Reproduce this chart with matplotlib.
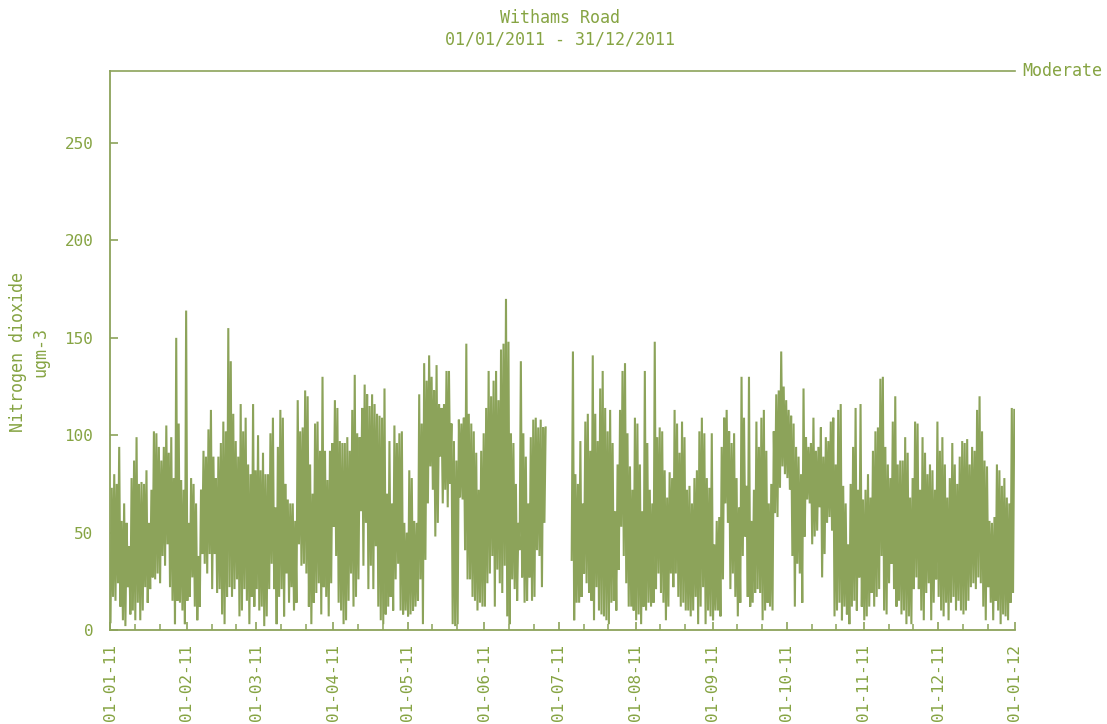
import numpy as np
import matplotlib
matplotlib.use("Agg")
import matplotlib.pyplot as plt
import matplotlib.dates as mdates
import matplotlib.transforms as mtransforms

nan = np.nan

# daily peak values (ugm-3), Jan..Dec 2011
highs_by_month = [
    [73, 80, 75, 94, 56, 65, 55, 43, 78, 87, 99, 75, 76, 75, 82, 55, 72, 102, 101, 94,
     87, 94, 105, 91, 99, 78, 150, 106, 77, 72, 164],
    [55, 78, 75, 65, 38, 72, 92, 89, 103, 113, 89, 78, 89, 96, 107, 102, 155, 138, 111, 97,
     89, 116, 102, 109, 85, 80, 116, 82],
    [100, 82, 91, 80, 80, 101, 109, 63, 94, 113, 109, 75, 67, 65, 65, 56, 118, 102, 104, 123,
     120, 85, 70, 106, 107, 92, 130, 92, 77, 92, 96],
    [118, 114, 97, 96, 96, 99, 92, 113, 131, 101, 99, 114, 126, 121, 115, 121, 116, 111, 110, 109,
     124, 70, 97, 65, 105, 96, 101, 102, 55, 50],
    [82, 78, 56, 55, 121, 106, 137, 128, 141, 130, 123, 136, 116, 114, 116, 133, 133, 106, 97, 87,
     108, 106, 109, 147, 111, 106, 102, 91, 72, 92, 101],
    [114, 133, 120, 128, 133, 118, 144, 147, 170, 148, 101, 96, 75, 55, 138, 101, 89, 65, 99, 108,
     109, 104, 108, 104, 104, nan, nan, nan, nan, nan],
    [nan, nan, nan, nan, nan, 143, 80, 75, 97, 65, 107, 111, 92, 141, 111, 97, 124, 133, 114, 102,
     113, 96, 61, 85, 113, 133, 137, 101, 84, 72, 109],
    [106, 85, 61, 133, 96, 72, 65, 148, 99, 104, 102, 82, 68, 81, 78, 113, 106, 91, 107, 99,
     72, 74, 65, 78, 82, 102, 109, 101, 78, 73, 101],
    [44, 56, 58, 94, 109, 113, 102, 96, 101, 78, 63, 130, 109, 74, 130, 56, 72, 107, 94, 109,
     113, 92, 65, 75, 102, 121, 123, 143, 125, 118],
    [113, 110, 106, 94, 89, 80, 124, 99, 94, 96, 109, 92, 94, 104, 89, 99, 97, 107, 109, 85,
     113, 116, 74, 65, 44, 75, 94, 114, 72, 116, 67],
    [72, 80, 68, 92, 102, 104, 129, 130, 94, 85, 78, 107, 120, 85, 87, 87, 99, 91, 68, 78,
     107, 106, 72, 99, 91, 80, 85, 82, 72, 107],
    [92, 99, 85, 68, 78, 96, 85, 75, 89, 97, 96, 98, 85, 94, 92, 113, 120, 102, 87, 84,
     56, 55, 58, 85, 82, 74, 78, 68, 65, 114, 113],
]

# daily minimum values (ugm-3)
lows_by_month = [
    [4, 17, 15, 24, 12, 5, 2, 22, 8, 10, 5, 14, 5, 10, 22, 14, 21, 27, 26, 29,
     24, 38, 33, 44, 22, 15, 3, 15, 14, 10, 3],
    [15, 17, 27, 12, 5, 12, 39, 34, 29, 39, 21, 39, 19, 21, 8, 3, 17, 22, 17, 21,
     26, 7, 10, 21, 15, 3, 17, 12],
    [21, 10, 12, 2, 7, 21, 34, 21, 3, 17, 21, 7, 29, 14, 22, 10, 14, 44, 33, 34,
     29, 12, 3, 14, 19, 24, 8, 22, 17, 7, 24],
    [53, 38, 14, 10, 3, 5, 15, 29, 12, 17, 26, 61, 33, 55, 21, 33, 21, 43, 12, 5,
     3, 8, 12, 17, 10, 26, 34, 10, 8, 10],
    [7, 8, 10, 12, 15, 26, 3, 36, 65, 84, 72, 48, 55, 89, 65, 72, 63, 75, 3, 2,
     3, 68, 67, 41, 26, 26, 17, 15, 10, 14, 12],
    [12, 24, 29, 38, 12, 31, 24, 19, 33, 7, 3, 26, 21, 15, 41, 27, 14, 15, 27, 15,
     17, 41, 38, 22, 55, nan, nan, nan, nan, nan],
    [nan, nan, nan, nan, nan, 36, 5, 14, 14, 17, 29, 24, 19, 15, 5, 22, 10, 8, 7, 5,
     3, 14, 15, 10, 31, 53, 38, 24, 12, 12, 10],
    [5, 8, 3, 12, 10, 14, 12, 14, 21, 29, 19, 14, 5, 12, 29, 22, 29, 17, 12, 14,
     10, 10, 7, 10, 17, 3, 12, 22, 3, 10, 7],
    [5, 10, 10, 7, 26, 65, 55, 21, 29, 17, 7, 14, 38, 48, 17, 12, 14, 19, 21, 19,
     5, 10, 14, 12, 10, 60, 58, 73, 84, 80],
    [78, 72, 38, 12, 34, 29, 14, 48, 67, 65, 44, 48, 51, 63, 27, 39, 55, 58, 51, 7,
     10, 14, 5, 12, 8, 3, 12, 15, 10, 27, 12],
    [5, 7, 12, 19, 12, 17, 21, 38, 10, 8, 24, 34, 21, 12, 15, 8, 10, 3, 7, 3,
     21, 27, 21, 10, 5, 19, 24, 5, 14, 26],
    [17, 10, 7, 14, 5, 14, 17, 10, 15, 10, 8, 10, 15, 22, 24, 21, 27, 24, 12, 5,
     22, 14, 5, 15, 10, 3, 8, 7, 5, 14, 19],
]

moderate_level = 287
y_ticks = [0, 50, 100, 150, 200, 250]

highs = np.array([v for m in highs_by_month for v in m], dtype=float)
lows = np.array([v for m in lows_by_month for v in m], dtype=float)

# interleave night lows and daytime peaks into one series
start = np.datetime64("2011-01-01T00:00")
days = np.arange(len(highs))
t_low = start + (days * 24 + 5).astype("timedelta64[h]")
t_high = start + (days * 24 + 17).astype("timedelta64[h]")
times = np.empty(2 * len(days), dtype="datetime64[h]")
times[0::2] = t_low
times[1::2] = t_high
values = np.empty(2 * len(days))
values[0::2] = lows
values[1::2] = highs

green = "#8ca35a"
text_green = "#86a443"
fs = 12
plt.rcParams["font.family"] = "DejaVu Sans Mono"

fig = plt.figure(figsize=(11.07, 7.24), dpi=100)
ax = fig.add_axes([110 / 1107, 94 / 724, 905 / 1107, 559 / 724])

ax.plot(times.astype("datetime64[s]").astype(object), values, color=green, lw=1.5,
        solid_joinstyle="miter")

ax.set_xlim(np.datetime64("2011-01-01").astype(object), np.datetime64("2012-01-01").astype(object))
ax.set_ylim(0, moderate_level)

ax.axhline(moderate_level, color=green, lw=1.2, clip_on=False)
trans = mtransforms.blended_transform_factory(ax.transAxes, ax.transData)
ax.text(1.008, moderate_level, "Moderate", transform=trans, ha="left", va="center",
        color=text_green, fontsize=fs)

ax.xaxis.set_major_locator(mdates.MonthLocator())
ax.xaxis.set_major_formatter(mdates.DateFormatter("%d-%m-%y"))
ax.xaxis.set_minor_locator(mdates.DayLocator(bymonthday=[11, 21]))
ax.set_yticks(y_ticks)

for s in ["top", "right"]:
    ax.spines[s].set_visible(False)
for s in ["left", "bottom"]:
    ax.spines[s].set_color(green)
    ax.spines[s].set_linewidth(1.3)

ax.tick_params(axis="both", which="major", direction="in", length=6, width=1.2,
               colors=green, labelcolor=text_green, labelsize=11.5)
ax.tick_params(axis="x", which="major", pad=10, labelrotation=90)
ax.tick_params(axis="y", which="major", pad=12)
ax.tick_params(axis="x", which="minor", direction="in", length=4, width=1.1, colors=green)

fig.text(560 / 1107, 1 - 18 / 724, "Withams Road", ha="center", va="center",
         color=text_green, fontsize=fs)
fig.text(560 / 1107, 1 - 40 / 724, "01/01/2011 - 31/12/2011", ha="center", va="center",
         color=text_green, fontsize=fs)
fig.text(18 / 1107, 1 - 352 / 724, "Nitrogen dioxide", rotation=90, ha="center", va="center",
         color=text_green, fontsize=fs)
fig.text(40 / 1107, 1 - 352 / 724, "ugm-3", rotation=90, ha="center", va="center",
         color=text_green, fontsize=fs)

fig.savefig("out.png", dpi=100)
